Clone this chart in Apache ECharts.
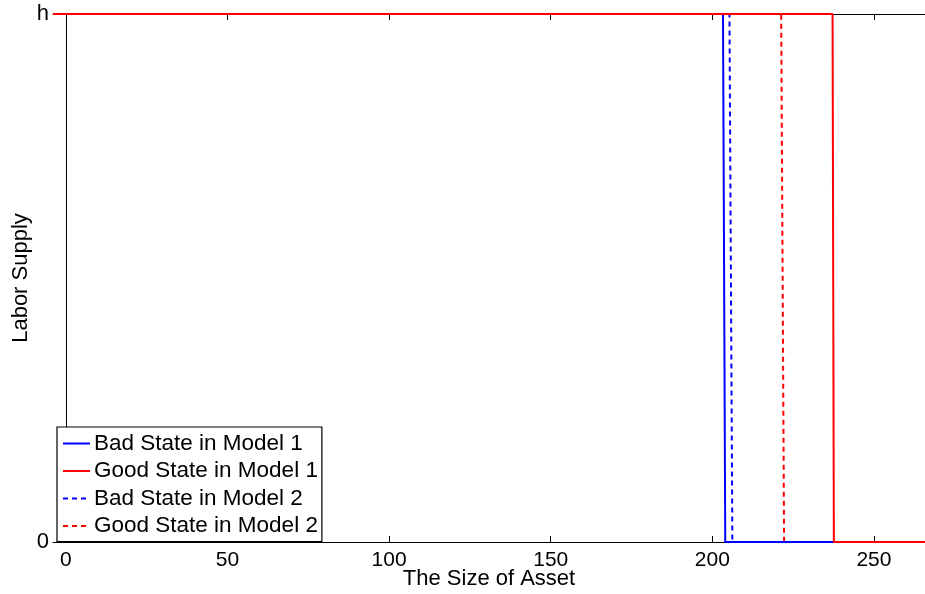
<!DOCTYPE html>
<html>
<head>
<meta charset="utf-8">
<script src="https://cdn.jsdelivr.net/npm/echarts@6/dist/echarts.min.js"></script>
<style>
  html, body { margin: 0; padding: 0; background: #fff; }
  #chart { width: 925px; height: 594px; }
</style>
</head>
<body>
<div id="chart"></div>
<script>
// Asset thresholds where labor supply switches from h to 0
const xTicks = [0, 50, 100, 150, 200, 250];
const yTicks = [0, 1];
const yTickLabels = ['0', 'h'];

const badM1X = [-4, 203.3, 204.0, 266];
const badM1Y = [1, 1, 0, 0];
const goodM1X = [-4, 237.2, 237.6, 266];
const goodM1Y = [1, 1, 0, 0];
const badM2X = [-4, 205.3, 206.2, 266];
const badM2Y = [1, 1, 0, 0];
const goodM2X = [-4, 221.3, 222.2, 266];
const goodM2Y = [1, 1, 0, 0];

const seriesNames = ['Bad State in Model 1', 'Good State in Model 1', 'Bad State in Model 2', 'Good State in Model 2'];

function pairs(xs, ys) { return xs.map((x, i) => [x, ys[i]]); }

const FONT = 'Liberation Sans, Arial, sans-serif';
const chart = echarts.init(document.getElementById('chart'), null, { renderer: 'canvas' });

function mkSeries(name, xs, ys, color, dashed, z) {
  return {
    name: name,
    type: 'line',
    data: pairs(xs, ys),
    symbol: 'none',
    showSymbol: false,
    animation: false,
    z: z,
    lineStyle: { color: color, width: 2, type: dashed ? [5, 4] : 'solid' },
    itemStyle: { color: color }
  };
}

const axisBase = {
  type: 'value',
  min: -4,
  max: 265.8,
  axisLine: { show: true, onZero: false, lineStyle: { color: '#000', width: 1 } },
  splitLine: { show: false }
};

chart.setOption({
  backgroundColor: '#fff',
  animation: false,
  grid: { left: 53, right: 0, top: 14, bottom: 52, containLabel: false, outerBoundsMode: 'none' },
  legend: {
    orient: 'vertical',
    left: 57,
    top: 427,
    data: seriesNames,
    itemWidth: 27,
    itemHeight: 14,
    itemGap: 4.5,
    padding: [5, 4, 4, 5],
    borderColor: '#000',
    borderWidth: 1.2,
    backgroundColor: '#fff',
    itemStyle: { color: 'rgba(0,0,0,0)', borderWidth: 0, opacity: 0 },
    textStyle: { fontFamily: FONT, fontSize: 22.5, color: '#000', padding: [0, 0, 0, -1] },
    inactiveColor: '#ccc'
  },
  xAxis: [
    Object.assign({}, axisBase, {
      position: 'bottom',
      name: 'The Size of Asset',
      nameLocation: 'middle',
      nameGap: 26,
      nameMoveOverlap: false,
      nameTextStyle: { fontFamily: FONT, fontSize: 22, color: '#000' },
      axisTick: { show: true, inside: true, length: 6, lineStyle: { color: '#000' }, customValues: xTicks },
      axisLabel: { show: true, customValues: xTicks, fontFamily: FONT, fontSize: 21, color: '#000', margin: 8 }
    }),
    Object.assign({}, axisBase, {
      position: 'top',
      axisTick: { show: true, inside: true, length: 6, lineStyle: { color: '#000' }, customValues: xTicks },
      axisLabel: { show: false }
    })
  ],
  yAxis: {
    type: 'value',
    min: 0,
    max: 1,
    interval: 1,
    name: 'Labor Supply',
    nameLocation: 'middle',
    nameGap: 21,
    nameMoveOverlap: false,
    nameRotate: 90,
    nameTextStyle: { fontFamily: FONT, fontSize: 22, color: '#000' },
    axisLine: { show: true, lineStyle: { color: '#000', width: 1 } },
    axisTick: { show: true, inside: true, length: 6, lineStyle: { color: '#000' } },
    splitLine: { show: false },
    axisLabel: {
      fontFamily: FONT, fontSize: 22, color: '#000', margin: 4,
      formatter: v => yTickLabels[yTicks.indexOf(v)]
    }
  },
  series: [
    mkSeries(seriesNames[2], badM2X, badM2Y, '#0000ff', true, 2),
    mkSeries(seriesNames[3], goodM2X, goodM2Y, '#ff0000', true, 3),
    mkSeries(seriesNames[0], badM1X, badM1Y, '#0000ff', false, 4),
    mkSeries(seriesNames[1], goodM1X, goodM1Y, '#ff0000', false, 5)
  ]
});
</script>
</body>
</html>
